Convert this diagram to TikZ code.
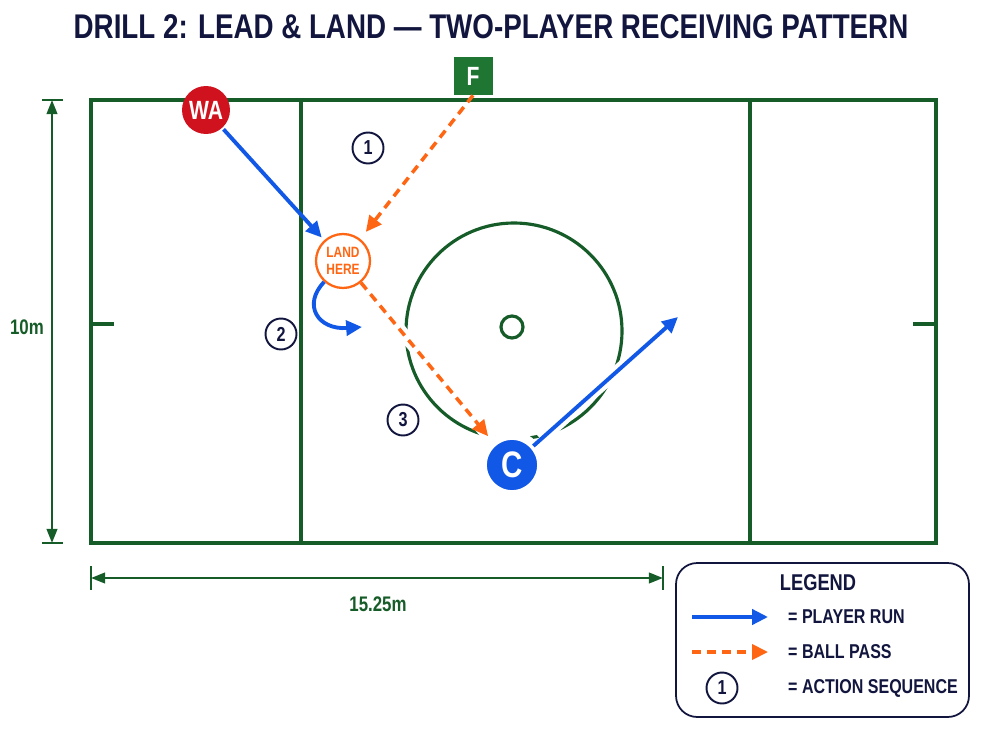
\documentclass[tikz,border=0pt]{standalone}
\usepackage{fontspec}
\setmainfont{Liberation Sans}[FakeStretch=0.8]
\newfontfamily\titlefont{Liberation Sans}[FakeStretch=0.81]
\usetikzlibrary{arrows.meta}
\definecolor{court}{RGB}{22,92,40}
\definecolor{fgreen}{RGB}{30,118,50}
\definecolor{runblue}{RGB}{18,88,230}
\definecolor{passorange}{RGB}{255,102,20}
\definecolor{wared}{RGB}{208,18,30}
\definecolor{navy}{RGB}{18,22,62}
\begin{document}
\begin{tikzpicture}[x=0.02cm,y=-0.02cm,
  font=\bfseries,
  courtline/.style={draw=court, line width=1.8pt},
  player/.style={circle, inner sep=0pt, minimum size=0.96cm, text=white, font=\bfseries\fontsize{15}{15}\selectfont},
  seqnum/.style={circle, draw=navy, line width=1.1pt, fill=white, inner sep=0pt, minimum size=0.62cm, text=navy, font=\bfseries\fontsize{11.5}{11.5}\selectfont},
  run/.style={draw=runblue, line width=2.2pt, -{Triangle[length=9pt,width=8.5pt]}},
  pass/.style={draw=passorange, line width=2pt, dash pattern=on 5pt off 3.5pt, -{Triangle[length=9pt,width=8.5pt]}},
  gapline/.style={draw=white, line width=7pt},
  dimline/.style={draw=court, line width=1.3pt, {Triangle[length=8pt,width=6pt]}-{Triangle[length=8pt,width=6pt]}},
  dimtext/.style={text=court, font=\bfseries\fontsize{12}{12}\selectfont},
  legtext/.style={text=navy, anchor=west, font=\bfseries\fontsize{11.4}{11.4}\selectfont}
]
\useasboundingbox (0,0) rectangle (1000,750);

% title
\node[text=navy, font=\titlefont\bfseries\fontsize{19.5}{19.5}\selectfont] (title) at (491,27) {DRILL 2: LEAD \& LAND — TWO-PLAYER RECEIVING PATTERN};

% court
\draw[courtline] (91,100) rectangle (936,543);
\draw[courtline] (301,100) -- (301,543);
\draw[courtline] (750,100) -- (750,543);
\draw[courtline] (91,324) -- (114,324);
\draw[courtline] (913,324) -- (936,324);
\draw[courtline] (514,331) circle[radius=108];
\draw[courtline] (512,327) circle[radius=11];

% nodes
\node[player, fill=wared] (wa) at (206,110) {WA};
\node[fill=fgreen, minimum width=0.78cm, minimum height=0.76cm, inner sep=0pt, text=white, font=\bfseries\fontsize{15}{15}\selectfont] (f) at (473,76) {F};
\node[circle, draw=passorange, line width=1.3pt, fill=white, minimum size=1.08cm, inner sep=0pt, align=center, text=passorange, font=\bfseries\fontsize{8.5}{9.5}\selectfont] (land) at (343,261) {LAND\\HERE};
\coordinate (cpos) at (512,465);
\coordinate (runend) at (678,317);
\coordinate (curveend) at (362,327);

% gaps in the centre circle
\path[gapline, shorten <=6pt] (land) -- (cpos);
\path[gapline, shorten <=22pt, shorten >=30pt] (cpos) -- (runend);

\node[player, fill=runblue, draw=white, line width=5pt, minimum size=1.18cm, font=\bfseries\fontsize{21}{21}\selectfont] (c) at (cpos) {C};

\node[seqnum] (s1) at (368,148) {1};
\node[seqnum] (s2) at (281,334) {2};
\node[seqnum] (s3) at (403,420) {3};

% arrows
\draw[run, shorten <=1pt, shorten >=2pt] (wa) -- (land);
\draw[pass, shorten >=5pt] (f.south) -- (land);
\draw[pass, shorten >=2pt] (land) -- (c);
\draw[run, shorten <=-3pt] (c) -- (runend);
\draw[run] (land.228) .. controls (302,305) and (318,330) .. (curveend);

% dimensions
\draw[court, line width=1.3pt] (42,100) -- (63,100);
\draw[court, line width=1.3pt] (42,543) -- (63,543);
\coordinate (vtop) at (52,100);
\coordinate (vbot) at (52,543);
\draw[dimline] (vtop) -- (vbot);
\node[dimtext] (h10) at (27,327) {10m};
\draw[court, line width=1.3pt] (91,566) -- (91,590);
\draw[court, line width=1.3pt] (663,566) -- (663,590);
\coordinate (hl) at (91,578);
\coordinate (hr) at (663,578);
\draw[dimline] (hl) -- (hr);
\node[dimtext] (w15) at (378,604) {15.25m};

% legend
\node[draw=navy, line width=1pt, rounded corners=12pt, fill=white, minimum width=5.86cm, minimum height=3.08cm] (legend) at (822.5,640) {};
\node[text=navy, font=\bfseries\fontsize{13}{13}\selectfont] (legtitle) at (818,583) {LEGEND};
\coordinate (l1a) at (692,617); \coordinate (l1b) at (768,617);
\coordinate (l2a) at (692,652); \coordinate (l2b) at (768,652);
\draw[run] (l1a) -- (l1b);
\draw[pass] (l2a) -- (l2b);
\node[seqnum] (ls) at (722,688) {1};
\node[legtext] (lt1) at (782,617) {= PLAYER RUN};
\node[legtext] (lt2) at (782,652) {= BALL PASS};
\node[legtext] (lt3) at (782,688) {= ACTION SEQUENCE};
\end{tikzpicture}
\end{document}
